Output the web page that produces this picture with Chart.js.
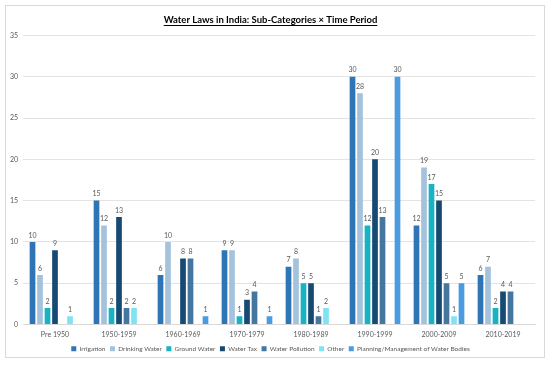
<!DOCTYPE html>
<html>
<head>
<meta charset="utf-8">
<script src="https://cdn.jsdelivr.net/npm/chart.js@4.4.1/dist/chart.umd.min.js"></script>
<style>
  html, body { margin: 0; padding: 0; background: #ffffff; overflow: hidden; }
  #frame { position: absolute; left: 5px; top: 5px; width: 538px; height: 351px; border: 1px solid #d9d9d9; pointer-events: none; }
  #c { position: absolute; left: 6px; top: 6px; display: block; }
</style>
</head>
<body>
<canvas id="c" width="538" height="360"></canvas>
<div id="frame"></div>
<script>
const categories = ["Pre 1950", "1950-1959", "1960-1969", "1970-1979", "1980-1989", "1990-1999", "2000-2009", "2010-2019"];
const irrigation     = [10, 15, 6, 9, 7, 30, 12, 6];
const drinkingWater  = [6, 12, 10, 9, 8, 28, 19, 7];
const groundWater    = [2, 2, null, 1, 5, 12, 17, 2];
const waterTax       = [9, 13, 8, 3, 5, 20, 15, 4];
const waterPollution = [null, 2, 8, 4, 1, 13, 5, 4];
const other          = [1, 2, null, null, 2, null, 1, null];
const planning       = [null, null, 1, 1, null, 30, 5, null];
const yTicks = [0, 5, 10, 15, 20, 25, 30, 35];
const seriesNames = ["Irrigation", "Drinking Water", "Ground Water", "Water Tax", "Water Pollution", "Other", "Planning/Management of Water Bodies"];
const seriesColors = ["#2e75b6", "#a5c2dc", "#17b3c3", "#174a72", "#44769f", "#7fe3f4", "#4a9be0"];
const seriesData = [irrigation, drinkingWater, groundWater, waterTax, waterPollution, other, planning];

const FONT = "Lato, 'Open Sans', sans-serif";
const TITLE = "Water Laws in India: Sub-Categories × Time Period";

const labelPlugin = {
  id: 'barLabels',
  afterDatasetsDraw(chart) {
    const ctx = chart.ctx;
    ctx.save();
    ctx.font = "7px " + FONT;
    ctx.fillStyle = "#595959";
    ctx.textAlign = "center";
    ctx.textBaseline = "bottom";
    chart.data.datasets.forEach((ds, i) => {
      const meta = chart.getDatasetMeta(i);
      meta.data.forEach((el, j) => {
        const v = ds.data[j];
        if (v === null || v === undefined) return;
        ctx.fillText(String(v), el.x, el.y - 3);
      });
    });
    ctx.restore();
  }
};

const underlinePlugin = {
  id: 'titleUnderline',
  afterDraw(chart) {
    const t = chart.titleBlock;
    if (!t) return;
    const ctx = chart.ctx;
    ctx.save();
    ctx.font = "bold 9.5px " + FONT;
    const w = ctx.measureText(TITLE).width;
    const cx = (t.left + t.right) / 2;
    const y = t.top + 8 + 11;
    ctx.strokeStyle = "#000";
    ctx.lineWidth = 1;
    ctx.beginPath();
    ctx.moveTo(cx - w / 2, Math.round(y) + 0.5);
    ctx.lineTo(cx + w / 2, Math.round(y) + 0.5);
    ctx.stroke();
    ctx.restore();
  }
};

new Chart(document.getElementById('c'), {
  type: 'bar',
  data: {
    labels: categories,
    datasets: seriesNames.map((n, i) => ({
      label: n,
      data: seriesData[i],
      backgroundColor: seriesColors[i],
      borderWidth: 0,
      categoryPercentage: 0.82,
      barPercentage: 0.76
    }))
  },
  options: {
    responsive: false,
    animation: false,
    layout: { padding: { left: 0, right: 9, top: 0, bottom: 4 } },
    scales: {
      x: {
        grid: { display: false, drawTicks: false },
        border: { display: true, color: "#d9d9d9" },
        ticks: { color: "#595959", font: { size: 7, family: FONT }, padding: 6.5, maxRotation: 0 },
        afterFit(scale) { scale.height = 16.5; }
      },
      y: {
        min: 0, max: 35,
        afterBuildTicks(axis) { axis.ticks = yTicks.map(v => ({ value: v })); },
        ticks: { color: "#595959", font: { size: 7, family: FONT }, padding: 5 },
        grid: { color: "#e3e3e3", drawTicks: false },
        border: { display: false },
        afterFit(scale) { scale.width = 17; }
      }
    },
    plugins: {
      title: {
        display: true,
        text: TITLE,
        color: "#000",
        font: { size: 9.5, weight: 'bold', family: FONT },
        padding: { top: 8, bottom: 10 }
      },
      legend: {
        position: 'bottom',
        labels: {
          boxWidth: 5, boxHeight: 5, padding: 4.5,
          color: "#595959",
          font: { size: 6.5, family: FONT }
        }
      },
      tooltip: { enabled: false }
    }
  },
  plugins: [labelPlugin, underlinePlugin]
});
</script>
</body>
</html>
